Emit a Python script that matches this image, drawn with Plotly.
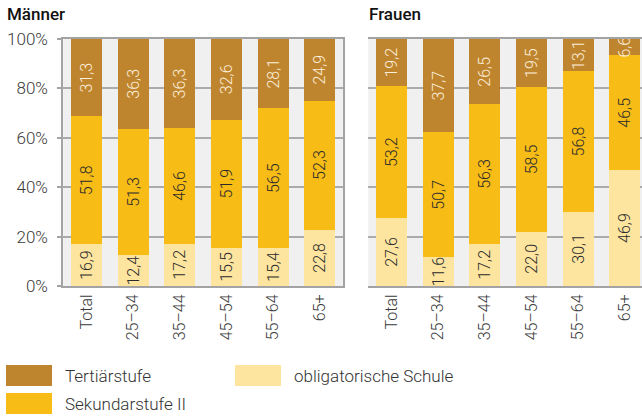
import plotly.graph_objects as go

categories = ["Total", "25–34", "35–44", "45–54", "55–64", "65+"]
series_names = ["obligatorische Schule", "Sekundarstufe II", "Tertiärstufe"]
maenner_obl = [16.9, 12.4, 17.2, 15.5, 15.4, 22.8]
maenner_sek = [51.8, 51.3, 46.6, 51.9, 56.5, 52.3]
maenner_ter = [31.3, 36.3, 36.3, 32.6, 28.1, 24.9]
frauen_obl = [27.6, 11.6, 17.2, 22.0, 30.1, 46.9]
frauen_sek = [53.2, 50.7, 56.3, 58.5, 56.8, 46.5]
frauen_ter = [19.2, 37.7, 26.5, 19.5, 13.1, 6.6]
panel_titles = ["Männer", "Frauen"]
y_ticks = [0, 20, 40, 60, 80, 100]
y_ticktext = ["0%", "20%", "40%", "60%", "80%", "100%"]

colors = ["#fde5a0", "#f8bc17", "#bf852e"]
text_colors = ["#2b2b2b", "#2b2b2b", "#fbeedb"]

W, H = 650, 416
FONT = "Roboto"

def px(x):
    return x / W

def py(y):
    return 1 - y / H

fig = go.Figure()

panels = [
    ("x", "y", [maenner_obl, maenner_sek, maenner_ter]),
    ("x2", "y2", [frauen_obl, frauen_sek, frauen_ter]),
]
for xa, ya, vals in panels:
    for i, (name, v) in enumerate(zip(series_names, vals)):
        fig.add_trace(go.Bar(
            x=categories, y=v, name=name, xaxis=xa, yaxis=ya,
            marker=dict(color=colors[i], line=dict(width=0)),
            width=0.665,
            texttemplate="%{y:.1f}", textposition="inside",
            insidetextanchor="middle", textangle=-90,
            textfont=dict(family=FONT, size=16, color=text_colors[i], weight=300),
            showlegend=False, hoverinfo="skip",
        ))

axis_common = dict(
    showline=True, linecolor="#a3a3a3", linewidth=2, mirror=True,
)
ydom = [py(286), py(39)]
fig.update_layout(
    width=W, height=H,
    margin=dict(l=0, r=0, t=0, b=0, autoexpand=False),
    barmode="stack", separators=",.",
    paper_bgcolor="white", plot_bgcolor="#eff0ef",
    font=dict(family=FONT, size=16, color="#3a3a3a", weight=300),
    uniformtext=dict(mode="show", minsize=16),
    xaxis=dict(domain=[px(63.3), px(343)], tickangle=-90, ticks="",
               tickfont=dict(size=16), **axis_common),
    xaxis2=dict(domain=[px(368.3), px(648)], tickangle=-90, ticks="",
                tickfont=dict(size=16), **axis_common),
    yaxis=dict(domain=ydom, range=[0, 100], tickvals=y_ticks, ticktext=y_ticktext,
               ticks="outside", ticklen=4, tickcolor="#a3a3a3", tickwidth=2,
               gridcolor="#ababab", gridwidth=1.5, zeroline=False,
               ticklabelstandoff=6,
               tickfont=dict(size=17), **axis_common),
    yaxis2=dict(domain=ydom, range=[0, 100], tickvals=y_ticks, showticklabels=False,
                ticks="outside", ticklen=4, tickcolor="#a3a3a3", tickwidth=2,
                gridcolor="#ababab", gridwidth=1.5, zeroline=False, **axis_common),
)

# panel titles
for title, x0 in zip(panel_titles, [5, 367]):
    fig.add_annotation(text=title, x=px(x0), y=py(14), xref="paper", yref="paper",
                       xanchor="left", yanchor="middle", showarrow=False,
                       font=dict(family=FONT, size=17, color="#111111", weight=500))

# custom legend
legend_items = [
    (series_names[2], colors[2], 6, 365),
    (series_names[1], colors[1], 6, 393),
    (series_names[0], colors[0], 235, 365),
]
for name, col, lx, ly in legend_items:
    fig.add_shape(type="rect", xref="paper", yref="paper",
                  x0=px(lx), x1=px(lx + 46), y0=py(ly + 21), y1=py(ly),
                  fillcolor=col, line=dict(width=0))
    fig.add_annotation(text=name, x=px(lx + 57), y=py(ly + 11), xref="paper", yref="paper",
                       xanchor="left", yanchor="middle", showarrow=False,
                       font=dict(family=FONT, size=17, color="#333333", weight=300))

fig.write_html("out.html", config={"displayModeBar": False},
               post_script="document.body.style.overflow='hidden';document.body.style.margin='0';")
